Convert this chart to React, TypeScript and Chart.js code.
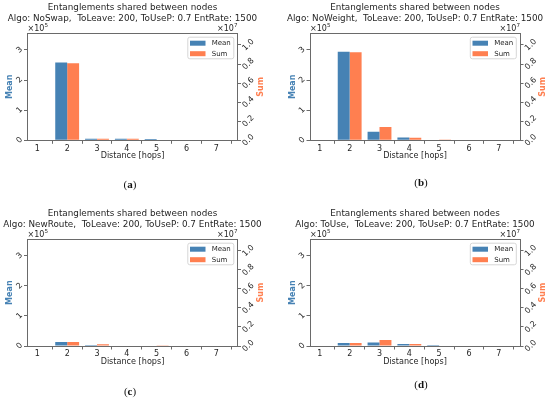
import React, { useEffect, useRef } from 'react';
import { Chart, registerables } from 'chart.js';

Chart.register(...registerables);

// data
const DISTANCES = [1, 2, 3, 4, 5, 6, 7];
const MEAN_TICKS = [0, 100000, 200000, 300000];
const SUM_TICKS = [0, 2e6, 4e6, 6e6, 8e6, 1e7];

const MEAN_NOSWAP = [0, 258000, 5000, 5000, 4000, 0, 0];
const SUM_NOSWAP = [0, 8080000, 150000, 150000, 0, 0, 0];
const MEAN_NOWEIGHT = [0, 294000, 28000, 9000, 1700, 0, 0];
const SUM_NOWEIGHT = [0, 9230000, 1390000, 280000, 30000, 0, 0];
const MEAN_NEWROUTE = [0, 13000, 3000, 2000, 1500, 0, 0];
const SUM_NEWROUTE = [0, 420000, 180000, 60000, 30000, 0, 0];
const MEAN_TOUSE = [0, 10000, 12000, 6700, 3500, 0, 0];
const SUM_TOUSE = [0, 310000, 630000, 210000, 40000, 0, 0];

const TO_LEAVE = 200;
const TO_USE_P = 0.7;
const ENT_RATE = 1500;

const BLUE = '#4682b4';
const ORANGE = '#ff7f50';
const AXIS = '#6a6a6a';
const TEXT = '#262626';
const FONT = '"DejaVu Sans"';

type Area = { l: number; r: number; t: number; b: number };

const decorPlugin = {
  id: 'decor',
  afterDraw(chart: Chart, _args: unknown, opts: any) {
    const { ctx, chartArea: a } = chart;
    const cx = (a.left + a.right) / 2;
    const cy = (a.top + a.bottom) / 2;
    ctx.save();

    // top spine
    ctx.strokeStyle = AXIS;
    ctx.lineWidth = 1;
    ctx.beginPath();
    ctx.moveTo(a.left, Math.round(a.top) + 0.5);
    ctx.lineTo(a.right, Math.round(a.top) + 0.5);
    ctx.stroke();

    // title
    ctx.fillStyle = TEXT;
    ctx.textAlign = 'center';
    ctx.textBaseline = 'middle';
    ctx.font = `8.8px ${FONT}`;
    ctx.fillText('Entanglements shared between nodes', cx, a.top - 25.5);
    ctx.fillText(
      `Algo: ${opts.algo},  ToLeave: ${TO_LEAVE}, ToUseP: ${TO_USE_P} EntRate: ${ENT_RATE}`,
      cx,
      a.top - 15
    );

    // offset texts
    const power = (x: number, y: number, exp: string, left: boolean) => {
      ctx.font = `8px ${FONT}`;
      const bw = ctx.measureText('×10').width;
      ctx.font = `5.6px ${FONT}`;
      const ew = ctx.measureText(exp).width;
      const start = left ? x : x - bw - ew;
      ctx.textAlign = 'left';
      ctx.font = `8px ${FONT}`;
      ctx.fillText('×10', start, y);
      ctx.font = `5.6px ${FONT}`;
      ctx.fillText(exp, start + bw, y - 3);
    };
    power(a.left, a.top - 4.5, '5', true);
    power(a.right, a.top - 4.5, '7', false);

    // x label
    ctx.textAlign = 'center';
    ctx.font = `8.1px ${FONT}`;
    ctx.fillText('Distance [hops]', cx, a.bottom + 16);

    // y labels
    ctx.font = `bold 8px ${FONT}`;
    ctx.save();
    ctx.translate(a.left - 17.5, cy);
    ctx.rotate(-Math.PI / 2);
    ctx.fillStyle = BLUE;
    ctx.fillText('Mean', 0, 0);
    ctx.restore();
    ctx.save();
    ctx.translate(a.right + 23, cy);
    ctx.rotate(-Math.PI / 2);
    ctx.fillStyle = ORANGE;
    ctx.fillText('Sum', 0, 0);
    ctx.restore();

    // legend
    const bx = a.right - 4.2 - 46;
    const by = a.top + 3.4;
    ctx.beginPath();
    ctx.roundRect(bx + 0.5, by + 0.5, 46, 21.6, 2);
    ctx.fillStyle = 'rgba(255,255,255,0.8)';
    ctx.fill();
    ctx.strokeStyle = '#d6d6d6';
    ctx.stroke();
    chart.data.datasets.forEach((ds, i) => {
      const rowY = by + 6.5 + i * 10.5;
      ctx.fillStyle = ds.backgroundColor as string;
      ctx.fillRect(bx + 2.7, rowY - 2.5, 15.5, 5);
      ctx.fillStyle = TEXT;
      ctx.textAlign = 'left';
      ctx.font = `7px ${FONT}`;
      ctx.fillText(ds.label as string, bx + 24.4, rowY);
    });

    // panel caption
    ctx.fillStyle = '#111';
    ctx.textAlign = 'left';
    ctx.font = '11px "Liberation Serif"';
    const pw = ctx.measureText('(').width;
    ctx.font = 'bold 11px "Liberation Serif"';
    const lw = ctx.measureText(opts.caption).width;
    let x = opts.capX - (2 * pw + lw) / 2;
    ctx.font = '11px "Liberation Serif"';
    ctx.fillText('(', x, opts.capY);
    x += pw;
    ctx.font = 'bold 11px "Liberation Serif"';
    ctx.fillText(opts.caption, x, opts.capY);
    x += lw;
    ctx.font = '11px "Liberation Serif"';
    ctx.fillText(')', x, opts.capY);

    ctx.restore();
  },
};

interface PanelProps {
  algo: string;
  caption: string;
  mean: number[];
  sum: number[];
  left: number;
  top: number;
  width: number;
  height: number;
  area: Area;
  capX: number;
  capY: number;
}

const Panel: React.FC<PanelProps> = ({ algo, caption, mean, sum, left, top, width, height, area, capX, capY }) => {
  const canvasRef = useRef<HTMLCanvasElement>(null);

  useEffect(() => {
    const canvas = canvasRef.current;
    if (!canvas) return;

    const tickFont = { family: 'DejaVu Sans', size: 8 };
    const grid = { display: true, drawOnChartArea: false, tickLength: 3.5, color: AXIS };
    const border = { display: true, color: AXIS, width: 1 };

    const chart = new Chart(canvas, {
      type: 'bar',
      data: {
        datasets: [
          {
            label: 'Mean',
            data: DISTANCES.map((d, i) => ({ x: d, y: mean[i] })),
            backgroundColor: BLUE,
            yAxisID: 'y',
            categoryPercentage: 0.8,
            barPercentage: 1,
            borderWidth: 0,
          },
          {
            label: 'Sum',
            data: DISTANCES.map((d, i) => ({ x: d, y: sum[i] })),
            backgroundColor: ORANGE,
            yAxisID: 'y1',
            categoryPercentage: 0.8,
            barPercentage: 1,
            borderWidth: 0,
          },
        ],
      },
      options: {
        responsive: false,
        animation: false,
        layout: { padding: { top: area.t, left: 0, right: 0, bottom: 0 } },
        plugins: {
          legend: { display: false },
          title: { display: false },
          tooltip: { enabled: false },
          decor: { algo, caption, capX, capY },
        } as any,
        scales: {
          x: {
            type: 'linear',
            min: 0.67,
            max: 7.71,
            offset: false,
            grid,
            border,
            afterBuildTicks: (s: any) => {
              s.ticks = DISTANCES.map((v) => ({ value: v }));
            },
            afterFit: (s: any) => {
              s.height = height - area.b;
            },
            ticks: {
              font: tickFont,
              color: TEXT,
              padding: 0,
              autoSkip: false,
              maxRotation: 0,
              callback: (v: any) => String(v),
            },
          },
          y: {
            type: 'linear',
            position: 'left',
            min: 0,
            max: 355000,
            grid,
            border,
            afterBuildTicks: (s: any) => {
              s.ticks = MEAN_TICKS.map((v) => ({ value: v }));
            },
            afterFit: (s: any) => {
              s.width = area.l;
            },
            ticks: {
              font: tickFont,
              color: TEXT,
              padding: 2,
              minRotation: 45,
              maxRotation: 45,
              crossAlign: 'center',
              callback: (v: any) => String(Math.round(Number(v) / 1e5)),
            },
          },
          y1: {
            type: 'linear',
            position: 'right',
            min: 0,
            max: 11220000,
            grid,
            border,
            afterBuildTicks: (s: any) => {
              s.ticks = SUM_TICKS.map((v) => ({ value: v }));
            },
            afterFit: (s: any) => {
              s.width = width - area.r;
            },
            ticks: {
              font: tickFont,
              color: TEXT,
              padding: 1,
              minRotation: 45,
              maxRotation: 45,
              crossAlign: 'center',
              callback: (v: any) => (Number(v) / 1e7).toFixed(1),
            },
          },
        },
      },
      plugins: [decorPlugin as any],
    });

    return () => {
      chart.destroy();
    };
  }, [algo, caption, mean, sum, width, height, area, capX, capY]);

  return (
    <canvas
      ref={canvasRef}
      width={width}
      height={height}
      style={{ position: 'absolute', left, top, width, height }}
    />
  );
};

const AREA_A: Area = { l: 27.5, r: 237.5, t: 33.3, b: 140.3 };
const AREA_B: Area = { l: 35, r: 245, t: 33.3, b: 140.3 };
const AREA_C: Area = { l: 27.5, r: 237.5, t: 39.3, b: 146 };
const AREA_D: Area = { l: 35, r: 245, t: 39.3, b: 146 };

export default function App() {
  useEffect(() => {
    document.body.style.margin = '0';
  }, []);

  return (
    <div style={{ position: 'relative', width: 550, height: 402, background: '#fff' }}>
      <Panel algo="NoSwap" caption="a" mean={MEAN_NOSWAP} sum={SUM_NOSWAP}
        left={0} top={0} width={275} height={200} area={AREA_A} capX={130} capY={185} />
      <Panel algo="NoWeight" caption="b" mean={MEAN_NOWEIGHT} sum={SUM_NOWEIGHT}
        left={275} top={0} width={275} height={200} area={AREA_B} capX={146} capY={183} />
      <Panel algo="NewRoute" caption="c" mean={MEAN_NEWROUTE} sum={SUM_NEWROUTE}
        left={0} top={200} width={275} height={202} area={AREA_C} capX={130} capY={191.7} />
      <Panel algo="ToUse" caption="d" mean={MEAN_TOUSE} sum={SUM_TOUSE}
        left={275} top={200} width={275} height={202} area={AREA_D} capX={146} capY={185} />
    </div>
  );
}
